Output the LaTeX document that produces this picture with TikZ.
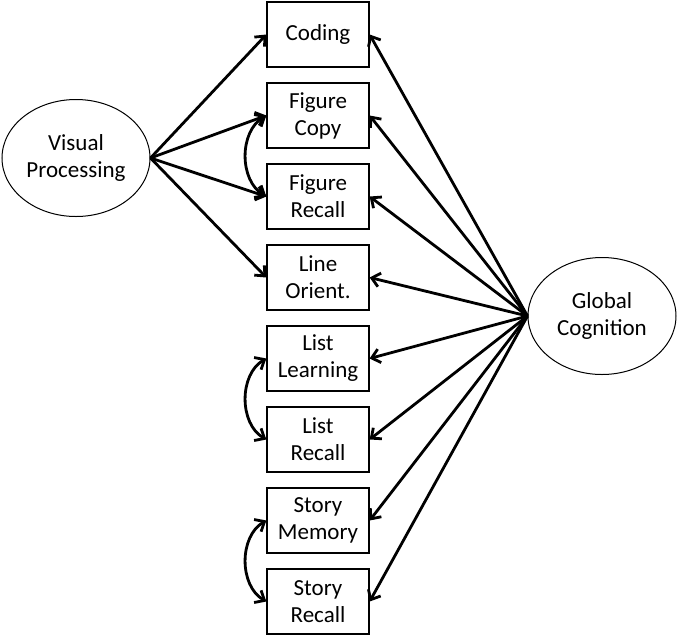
\documentclass[tikz,border=0pt]{standalone}
\usepackage{fontspec}
\setmainfont{Carlito}
\usetikzlibrary{arrows.meta,shapes.geometric}
\definecolor{semLine}{HTML}{000000}
\tikzset{
  sem diagram/.style={
    x=1pt, y=-1pt,
    >={Straight Barb[length=8pt,width=14pt,line width=2.8pt]},
    every node/.style={font=\fontsize{23}{27}\selectfont,
      text=black, align=center, inner sep=0pt}
  },
  sem box/.style={draw=semLine, line width=1.3pt,
    minimum width=102pt, minimum height=65pt},
  sem factor/.style={draw=semLine, ellipse, line width=1pt,
    minimum width=148pt, minimum height=117pt},
  sem path/.style={->, line width=2.8pt, draw=semLine},
  sem cov/.style={<->, line width=2.8pt, draw=semLine}
}

\begin{document}
\begin{tikzpicture}[sem diagram]
    \useasboundingbox (0,0) rectangle (678,638);
    % latent factors
    \node[sem factor] (visual) at (76,158) {Visual\\Processing};
    \node[sem factor] (global) at (602,316) {Global\\Cognition};
    % indicators
    \node[sem box] (coding)  at (318,34.5)  {Coding};
    \node[sem box] (figcopy) at (318,115.5) {Figure\\Copy};
    \node[sem box] (figrec)  at (318,196.5) {Figure\\Recall};
    \node[sem box] (line)    at (318,277.5) {Line\\Orient.};
    \node[sem box] (listlrn) at (318,358.5) {List\\Learning};
    \node[sem box] (listrec) at (318,439.5) {List\\Recall};
    \node[sem box] (storymem) at (318,520.5) {Story\\Memory};
    \node[sem box] (storyrec) at (318,601.5) {Story\\Recall};
    % loadings
    \foreach \b in {coding,figcopy,figrec,line}
      \draw[sem path] (visual.east) -- (\b.west);
    \foreach \b in {coding,figcopy,figrec,line,listlrn,listrec,storymem,storyrec}
      \draw[sem path] (global.west) -- (\b.east);
    % residual covariances
    \draw[sem cov] (figcopy.west) to[bend right=60] (figrec.west);
    \draw[sem cov] (listlrn.west) to[bend right=60] (listrec.west);
    \draw[sem cov] (storymem.west) to[bend right=60] (storyrec.west);
\end{tikzpicture}
\end{document}
